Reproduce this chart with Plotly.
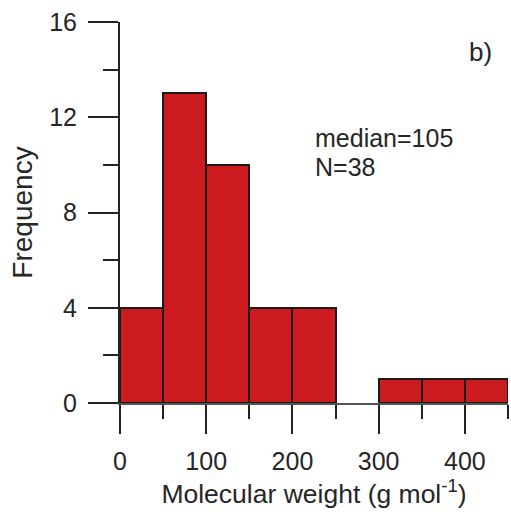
import plotly.graph_objects as go

bin_left = [0, 50, 100, 150, 200, 250, 300, 350, 400]
bin_width = 50
counts = [4, 13, 10, 4, 4, 0, 1, 1, 1]
y_ticks = [0, 4, 8, 12, 16]
x_ticks = [0, 100, 200, 300, 400]

centers = [b + bin_width / 2 for b in bin_left]
edge_w = [2 if c > 0 else 0 for c in counts]

FONT = "Arial, Liberation Sans, sans-serif"
TXT = "#262626"

fig = go.Figure()
fig.add_trace(go.Bar(
    x=centers, y=counts, width=[bin_width] * len(counts),
    marker=dict(color="#CC1B1F", line=dict(color="#1a1a1a", width=edge_w)),
    showlegend=False,
))

fig.update_layout(
    width=511, height=514,
    margin=dict(l=120, r=3, t=22, b=111),
    paper_bgcolor="white", plot_bgcolor="white",
    font=dict(family=FONT, size=24, color=TXT),
    bargap=0,
    xaxis=dict(
        range=[0, 450], tickvals=x_ticks, showgrid=False, zeroline=False,
        showline=True, linecolor="#555", linewidth=2,
        ticks="outside", ticklen=29, tickwidth=2, tickcolor="#222",
        minor=dict(dtick=50, tick0=0, ticks="outside", ticklen=14, tickwidth=2, tickcolor="#222", showgrid=False),
        ticklabelstandoff=6,
        tickfont=dict(size=25, color=TXT),
        title=dict(text="Molecular weight (g mol<sup>-1</sup>)", font=dict(size=26.5, color=TXT), standoff=4),
    ),
    yaxis=dict(
        range=[0, 16], tickvals=y_ticks, showgrid=False, zeroline=False,
        showline=True, linecolor="#222", linewidth=2,
        ticks="outside", ticklen=30, tickwidth=2, tickcolor="#222",
        minor=dict(dtick=2, tick0=0, ticks="outside", ticklen=15, tickwidth=2, tickcolor="#222", showgrid=False),
        ticklabelstandoff=6,
        tickfont=dict(size=25, color=TXT),
        title=dict(text="Frequency", font=dict(size=28, color=TXT), standoff=8),
    ),
    annotations=[
        dict(text="b)", xref="paper", yref="paper", x=0.928, y=0.921,
             xanchor="center", yanchor="middle", showarrow=False, font=dict(size=26, color=TXT)),
        dict(text="median=105", xref="paper", yref="paper", x=0.497, y=0.6955,
             xanchor="left", yanchor="middle", align="left", showarrow=False,
             font=dict(size=25, color=TXT)),
        dict(text="N=38", xref="paper", yref="paper", x=0.497, y=0.6194,
             xanchor="left", yanchor="middle", align="left", showarrow=False,
             font=dict(size=25, color=TXT)),
    ],
)

fig.write_html("out.html")
